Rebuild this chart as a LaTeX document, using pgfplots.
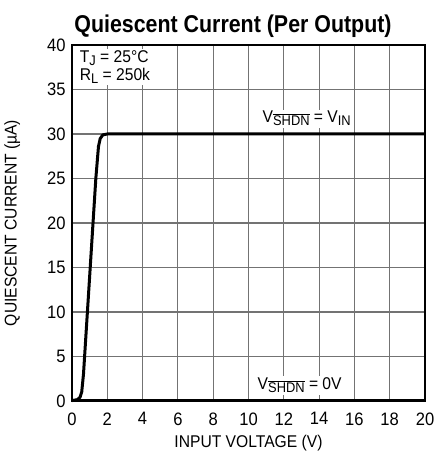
\documentclass[border=0pt]{standalone}
\usepackage{amsmath}
\usepackage{pgfplots}
\pgfplotsset{compat=1.18}
\usepackage{fontspec}
\setmainfont{Liberation Sans}[FakeStretch=0.92]
\newfontfamily\titlefont{Liberation Sans}[FakeStretch=0.88]
\newcommand\sub[1]{\raisebox{-0.35ex}{\fontsize{14}{14}\selectfont #1}}
\newcommand\shdn{\sub{$\overline{\mbox{SHDN}}$}}
\begin{document}
\begin{tikzpicture}
\useasboundingbox (-72pt,-61pt) rectangle (363pt,401pt);
\begin{axis}[
  scale only axis,
  width=353pt, height=356pt,
  at={(0,0)}, anchor=south west,
  xmin=0, xmax=20, ymin=0, ymax=40,
  xtick={0,2,...,20}, ytick={0,5,...,40},
  grid=major,
  major grid style={black!55, line width=1.1pt},
  axis line style={line width=1.5pt},
  tick style={draw=none},
  ticklabel style={font=\fontsize{18}{19}\selectfont},
  xticklabel style={yshift=-8pt},
  yticklabel style={xshift=-3pt},
  /pgf/number format/assume math mode=true,
  xlabel={INPUT VOLTAGE (V)},
  ylabel={QUIESCENT CURRENT (\textmu A)},
  label style={font=\fontsize{17}{18}\selectfont},
  xlabel style={yshift=-3pt},
  ylabel style={yshift=20pt},
  clip=false,
]
\addplot[black, line width=3pt, line join=round] coordinates {
 (0,0.05) (0.3,0.15) (0.45,0.4) (0.55,1.0) (0.65,3) (1.0,14) (1.35,25) (1.5,28.6) (1.6,29.5) (1.75,29.9) (2.0,30) (20,30)};
\addplot[black, line width=3pt] coordinates {(0,0) (20,0)};
\node[fill=white, anchor=north west, inner sep=1.5pt, align=left, font=\fontsize{17}{18}\selectfont] at (axis cs:0.35,39.6) {T\sub{J} = 25°C\\R\sub{L} = 250k};
\node[fill=white, inner sep=1.5pt, anchor=south, font=\fontsize{17}{19}\selectfont] at (axis cs:13.3,30.7) {V\shdn\ = V\sub{IN}};
\node[fill=white, inner sep=1.5pt, anchor=south, font=\fontsize{17}{19}\selectfont] at (axis cs:12.9,0.7) {V\shdn\ = 0V};
\end{axis}
\node[font=\titlefont\bfseries\fontsize{24.3}{26}\selectfont, anchor=base] at (161pt,368pt) {Quiescent Current (Per Output)};
\end{tikzpicture}
\end{document}
